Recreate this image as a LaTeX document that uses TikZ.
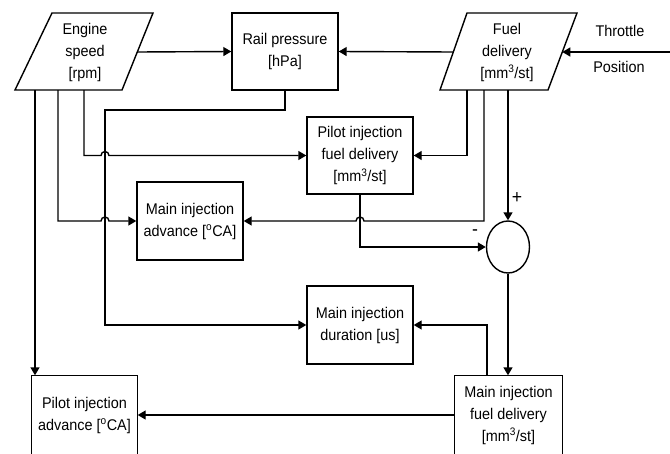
\documentclass[tikz,border=0pt]{standalone}
\usepackage{fontspec}
\setmainfont{Liberation Sans}[FakeStretch=0.93]
\usetikzlibrary{arrows.meta,shapes.geometric}
\newcommand\dfont{\fontsize{15.5}{22}\selectfont}
\begin{document}
\begin{tikzpicture}[x=1pt,y=-1pt,line width=1.4pt,
  box/.style={draw,rectangle,minimum width=106pt,minimum height=77pt,align=center,inner sep=0pt,font=\dfont},
  cutbox/.style={rectangle,minimum width=106pt,minimum height=78pt,align=center,inner sep=0pt,font=\dfont},
  lbl/.style={font=\dfont,align=center,inner sep=0pt},
  sgn/.style={font=\fontsize{19}{20}\selectfont,inner sep=0pt},
  arr/.style={-{Triangle[length=8pt,width=9pt]}}]
\useasboundingbox (0,0) rectangle (670,453);
\clip (0,0) rectangle (670,453);
% parallelograms
\draw (52,13) -- (153,13) -- (122,90) -- (15,90) -- cycle;
\node[lbl] (es) at (85,52) {Engine\\speed\\{[rpm]}};
\draw (467,13) -- (577,13) -- (548,90) -- (440,90) -- cycle;
\node[lbl] (fd) at (507,52) {Fuel\\delivery\\{[mm\textsuperscript{3}/st]}};
\coordinate (esR) at (137.3,52);
\coordinate (esB1) at (35,90);
\coordinate (esB2) at (58,90);
\coordinate (esB3) at (84,90);
\coordinate (fdL) at (453.3,52);
\coordinate (fdR) at (562.3,52);
\coordinate (fdB1) at (467,90);
\coordinate (fdB2) at (484,90);
\coordinate (fdB3) at (508,90);
\coordinate (thr) at (670,52);
\coordinate (jx) at (105,0);
% boxes
\node[box] (rail) at (285,51.5) {Rail pressure\\{[hPa]}};
\node[box] (pfd) at (360,155.5) {Pilot injection\\fuel delivery\\{[mm\textsuperscript{3}/st]}};
\node[box,minimum height=78pt] (mia) at (190,221) {Main injection\\advance [\textsuperscript{o}CA]};
\node[box,minimum height=78pt] (mid) at (360,325) {Main injection\\duration [us]};
\node[cutbox,minimum width=105pt] (pia) at (84.5,415) {Pilot injection\\advance [\textsuperscript{o}CA]};
\node[cutbox,minimum width=107pt] (mfd) at (508.5,415) {Main injection\\fuel delivery\\{[mm\textsuperscript{3}/st]}};
\draw ([yshift=-30pt]pia.south west) -- (pia.north west) -- (pia.north east) -- ([yshift=-30pt]pia.south east);
\draw ([yshift=-30pt]mfd.south west) -- (mfd.north west) -- (mfd.north east) -- ([yshift=-30pt]mfd.south east);
\node[draw,ellipse,minimum width=43pt,minimum height=52pt,inner sep=0pt] (sum) at (508,247) {};
% labels
\node[lbl] (tp1) at (620,31) {Throttle};
\node[lbl] (tp2) at (619,67) {Position};
\node[sgn] (plus) at (517,198) {+};
\node[sgn] (minus) at (475,233) {-};
% connectors
\draw[arr] (thr) -- (fdR);
\draw[arr] (esR) -- (rail.west);
\draw[arr] (fdL) -- (rail.east);
\draw[arr] (esB1) -- (esB1 |- pia.north);
\draw[arr] (esB2) |- ([xshift=-4pt]jx |- mia.west) arc[start angle=180,end angle=0,radius=4pt] -- (mia.west);
\draw[arr] (esB3) |- ([xshift=-4pt]jx |- pfd.west) arc[start angle=180,end angle=0,radius=4pt] -- (pfd.west);
\draw[arr] (rail.south) |- (105,110) |- (mid.west);
\draw[arr] (fdB1) |- (pfd.east);
\draw[arr] (fdB2) |- ([xshift=4pt]pfd.south |- mia.east) arc[start angle=0,end angle=180,radius=4pt] -- (mia.east);
\draw[arr] (fdB3) -- (sum.north);
\draw[arr] (pfd.south) |- (sum.west);
\draw[arr] (sum.south) -- (sum.south |- mfd.north);
\draw[arr] ([xshift=-21.5pt]mfd.north) |- (mid.east);
\draw[arr] (mfd.west) -- (pia.east);
\end{tikzpicture}
\end{document}
